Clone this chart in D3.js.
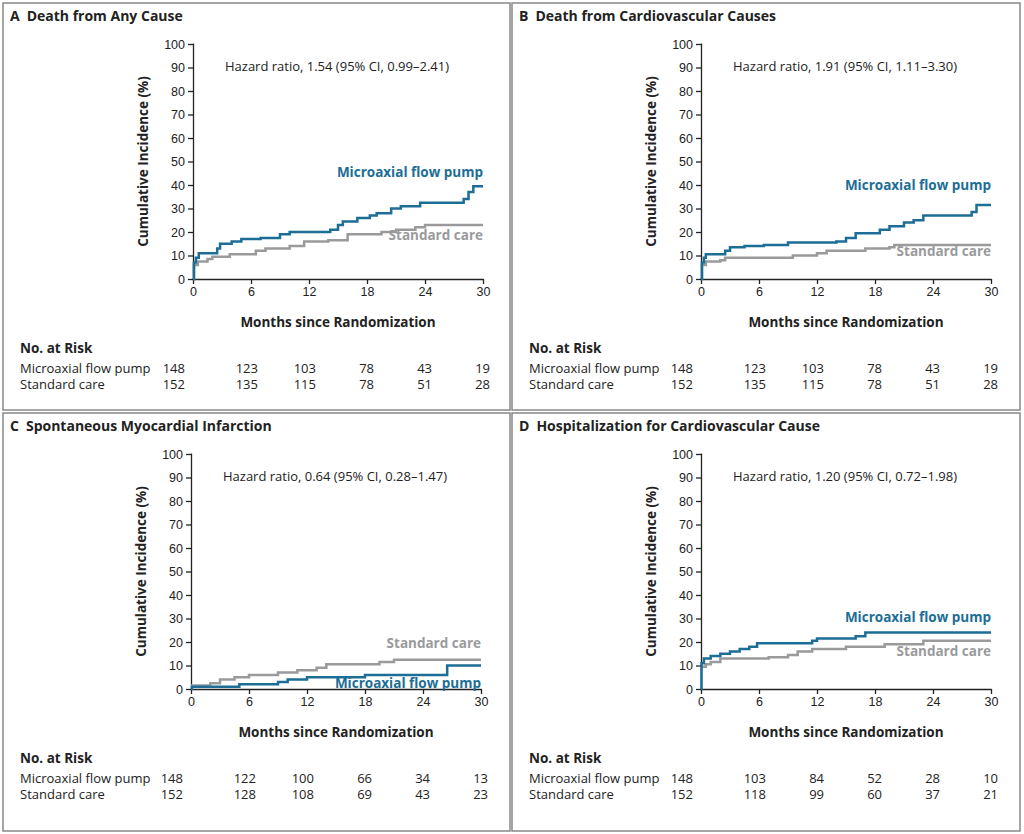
<!DOCTYPE html>
<html><head><meta charset="utf-8">
<script src="https://cdn.jsdelivr.net/npm/d3@7"></script>
<style>body{margin:0;background:#fff;font-family:"Open Sans","Noto Sans",sans-serif;}</style>
</head><body>
<script>
// data
var titles = ["A  Death from Any Cause", "B  Death from Cardiovascular Causes", "C  Spontaneous Myocardial Infarction", "D  Hospitalization for Cardiovascular Cause"];
var hazardText = ["Hazard ratio, 1.54 (95% CI, 0.99\u20132.41)", "Hazard ratio, 1.91 (95% CI, 1.11\u20133.30)", "Hazard ratio, 0.64 (95% CI, 0.28\u20131.47)", "Hazard ratio, 1.20 (95% CI, 0.72\u20131.98)"];
var monthTicks = [0, 6, 12, 18, 24, 30];
var yTicks = [0, 10, 20, 30, 40, 50, 60, 70, 80, 90, 100];

var pumpA = [[0,0],[0.1,7],[0.3,9],[0.6,11],[2.3,11],[2.5,13],[2.8,15],[4,16],[5,17],[7,17.5],[9,19],[10,20],[14.2,21],[15,23],[15.5,24.5],[17,26],[18.3,27],[19,28],[20.5,30],[21.5,31],[23.5,32.5],[28,34],[28.5,37],[29,39.5],[30,39.5]];
var stdA = [[0,0],[0.1,6],[0.5,7.5],[1.5,8.5],[2,9.5],[3.8,10.5],[6.5,12],[7.5,13],[10,14],[11.5,16],[14,16.5],[16,19],[19.5,20],[21,21],[23,22],[24,23],[30,23]];
var pumpB = [[0,0],[0.1,7],[0.3,9],[0.5,10.5],[2.3,10.5],[2.5,12],[3,13.5],[4.5,14],[6.5,14.5],[9,15.5],[14,16],[15,17.5],[16,19.5],[18.5,21],[19.5,22.5],[21,24],[22,25],[23,27],[28,28.5],[28.5,31.5],[30,31.5]];
var stdB = [[0,0],[0.1,6],[0.5,7.5],[2,8],[2.5,9],[9.5,10],[12,11],[13,12],[17,13],[19.5,13.5],[20,14.5],[30,14.5]];
var pumpC = [[0,0],[0.1,1],[5,2],[9,3],[10,4],[12,5],[18,6],[26.5,10],[30,10]];
var stdC = [[0,1.5],[2,2.5],[3,4],[4.5,5],[6,6],[9,7],[11,8],[13,9],[14,10.5],[19.5,11.5],[21,12.5],[30,12.5]];
var pumpD = [[0,0],[0.05,11],[0.3,13],[1,14],[2,15],[3,16],[4,17],[5,18],[5.8,19.5],[11.5,20.5],[12,21.5],[16,22.5],[17,24],[30,24]];
var stdD = [[0,9.5],[0.5,10.5],[1,11.5],[2,13],[7,13.5],[9,14.5],[10,16],[11.5,17],[15,18],[19,19],[23,20.5],[30,20.5]];

var riskPumpA = [148, 123, 103, 78, 43, 19];
var riskStdA = [152, 135, 115, 78, 51, 28];
var riskPumpC = [148, 122, 100, 66, 34, 13];
var riskStdC = [152, 128, 108, 69, 43, 23];
var riskPumpD = [148, 103, 84, 52, 28, 10];
var riskStdD = [152, 118, 99, 60, 37, 21];

var pumpColor = "#1c6e96", stdColor = "#9a9a9c";

var svg = d3.select("body").append("svg").attr("width", 1024).attr("height", 834);

var panels = [
  {box:[3,3,507,407], x0:193, y0:44, pump:pumpA, std:stdA, rp:riskPumpA, rs:riskStdA, pumpLab:[177,"end"], stdLab:[240,"end"]},
  {box:[512,3,508,407], x0:701, y0:44, pump:pumpB, std:stdB, rp:riskPumpA, rs:riskStdA, pumpLab:[190,"end"], stdLab:[256,"end"]},
  {box:[3,413,507,418], x0:191, y0:454, pump:pumpC, std:stdC, rp:riskPumpC, rs:riskStdC, pumpLab:[688,"end"], stdLab:[648,"end"]},
  {box:[512,413,508,418], x0:701, y0:454, pump:pumpD, std:stdD, rp:riskPumpD, rs:riskStdD, pumpLab:[622,"end"], stdLab:[656,"end"]}
];

panels.forEach(function(p, i) {
  svg.append("rect").attr("x", p.box[0]).attr("y", p.box[1]).attr("width", p.box[2]).attr("height", p.box[3])
    .attr("fill", "none").attr("stroke", "#888").attr("stroke-width", 1.5);

  var tp = titles[i].split("  ");
  var t = svg.append("text").attr("x", p.box[0] + 7).attr("y", p.box[1] + 18)
    .attr("font-size", 14).attr("font-weight", "bold").attr("fill", "#222");
  t.append("tspan").text(tp[0]);
  t.append("tspan").attr("dx", 7).text(tp[1]);

  var x = d3.scaleLinear().domain([0, 30]).range([p.x0, p.x0 + 290]);
  var y = d3.scaleLinear().domain([0, 100]).range([p.y0 + 235, p.y0]);

  var g = svg.append("g").attr("font-family", "'Open Sans','Noto Sans',sans-serif");
  g.append("g").attr("transform", "translate(0," + y(0) + ")")
    .call(d3.axisBottom(x).tickValues(monthTicks).tickSize(5).tickPadding(3))
    .call(function(a) { a.select(".domain").attr("d", "M" + (p.x0 - 0.5) + ",0.5H" + (p.x0 + 290.5)); });
  g.append("g").attr("transform", "translate(" + p.x0 + ",0)")
    .call(d3.axisLeft(y).tickValues(yTicks).tickSize(5).tickPadding(3))
    .call(function(a) { a.select(".domain").attr("d", "M0.5," + (p.y0 - 0.5) + "V" + (y(0) + 0.5)); });
  g.selectAll(".tick text").attr("font-size", 12.5).attr("fill", "#222");
  g.selectAll(".domain,.tick line").attr("stroke", "#222").attr("stroke-width", 1.3);

  svg.append("text").attr("x", x(15)).attr("y", y(0) + 48).attr("text-anchor", "middle")
    .attr("font-size", 13.5).attr("font-weight", "bold").attr("fill", "#222").text("Months since Randomization");
  svg.append("text").attr("transform", "translate(" + (p.x0 - 45) + "," + y(50) + ") rotate(-90)")
    .attr("text-anchor", "middle").attr("font-size", 13.5).attr("font-weight", "bold").attr("fill", "#222")
    .text("Cumulative Incidence (%)");
  svg.append("text").attr("x", x(15) - 1).attr("y", p.y0 + 27).attr("text-anchor", "middle")
    .attr("font-size", 13).attr("fill", "#222").text(hazardText[i]);

  var line = d3.line().x(function(d) { return x(d[0]); }).y(function(d) { return y(d[1]); }).curve(d3.curveStepAfter);
  svg.append("path").datum(p.std).attr("d", line).attr("fill", "none").attr("stroke", stdColor).attr("stroke-width", 2.5);
  svg.append("path").datum(p.pump).attr("d", line).attr("fill", "none").attr("stroke", pumpColor).attr("stroke-width", 2.5);

  svg.append("text").attr("x", x(30)).attr("y", p.pumpLab[0]).attr("text-anchor", "end")
    .attr("font-size", 13.5).attr("font-weight", "bold").attr("fill", pumpColor).text("Microaxial flow pump");
  svg.append("text").attr("x", x(30)).attr("y", p.stdLab[0]).attr("text-anchor", "end")
    .attr("font-size", 13.5).attr("font-weight", "bold").attr("fill", stdColor).text("Standard care");

  // risk table
  var ty = y(0) + 74;
  var lx = p.box[0] + 17;
  svg.append("text").attr("x", lx).attr("y", ty).attr("font-size", 13.5).attr("font-weight", "bold").attr("fill", "#222").text("No. at Risk");
  [["Microaxial flow pump", p.rp], ["Standard care", p.rs]].forEach(function(row, r) {
    var ry = ty + 20 + r * 16;
    svg.append("text").attr("x", lx).attr("y", ry).attr("font-size", 13).attr("fill", "#222").text(row[0]);
    svg.selectAll(null).data(row[1]).enter().append("text")
      .attr("x", function(d, k) { return x(monthTicks[k]) + (k === 0 ? -8 : 7); })
      .attr("y", ry).attr("text-anchor", "end").attr("font-size", 13).attr("fill", "#222")
      .text(function(d) { return d; });
  });
});
</script>
</body></html>
